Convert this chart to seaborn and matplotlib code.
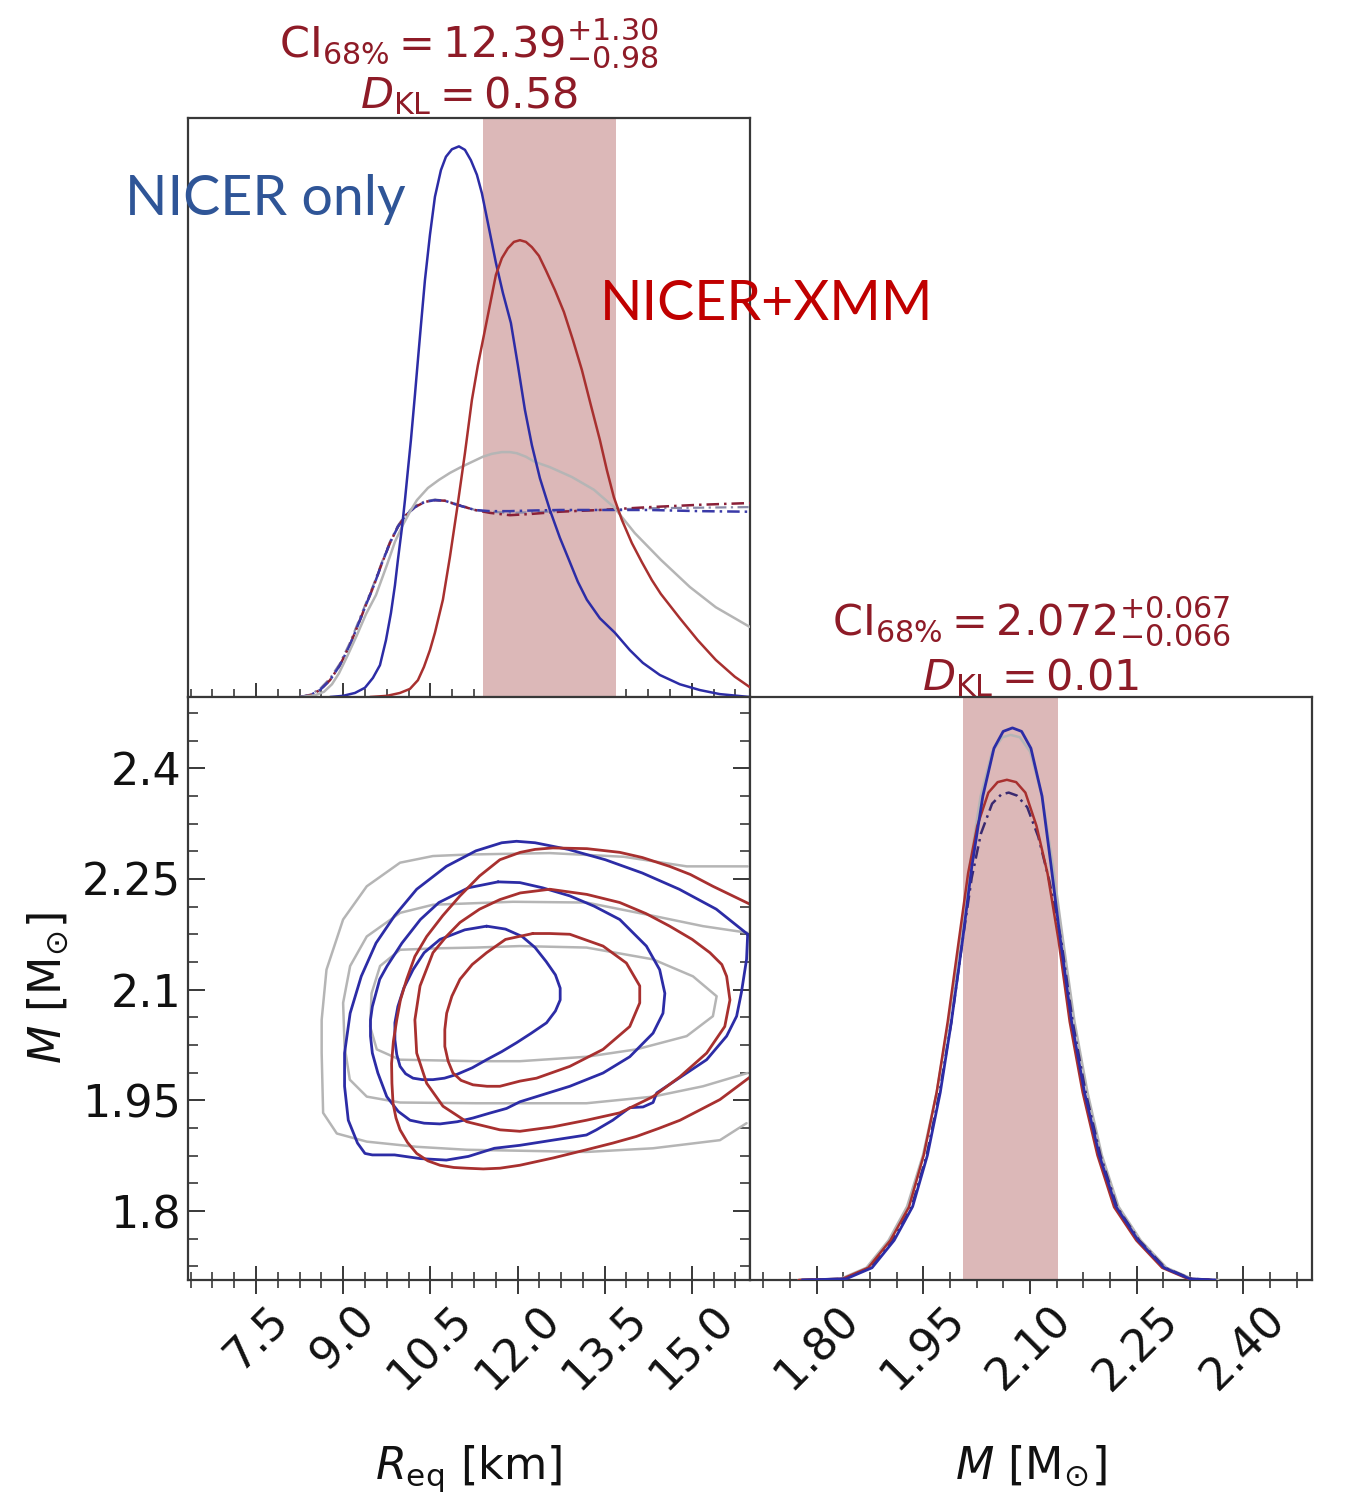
import matplotlib
matplotlib.use('Agg')
import matplotlib.pyplot as plt
from matplotlib.ticker import MultipleLocator, FuncFormatter
import seaborn as sns

sns.set_style('white')
plt.rcParams['font.family'] = ['DejaVu Sans']
plt.rcParams['mathtext.fontset'] = 'dejavusans'
plt.rcParams['text.color'] = '#111111'
plt.rcParams['axes.labelcolor'] = '#111111'
plt.rcParams['xtick.labelcolor'] = '#111111'
plt.rcParams['ytick.labelcolor'] = '#111111'

# axis ranges and 68% credible intervals (NICER+XMM)
r_lim = (6.33, 16.0)
m_lim = (1.7065, 2.4965)
ci_r = [11.41, 13.69]
ci_m = [2.006, 2.139]

# ---- 1D radius posteriors (height relative to panel) ----
r_blue = [8.773, 8.996, 9.203, 9.375, 9.512, 9.633, 9.736, 9.822, 9.891, 9.942, 10.011, 10.063,
          10.114, 10.166, 10.235, 10.286, 10.338, 10.407, 10.493, 10.579, 10.682, 10.768, 10.871,
          10.992, 11.095, 11.198, 11.301, 11.387, 11.508, 11.628, 11.748, 11.886, 12.006, 12.127,
          12.247, 12.385, 12.557, 12.729, 12.884, 13.038, 13.193, 13.417, 13.675, 13.933, 14.156,
          14.449, 14.793, 15.137, 15.481, 15.997]
h_blue = [0.0, 0.002, 0.007, 0.016, 0.033, 0.055, 0.098, 0.145, 0.193, 0.237, 0.292, 0.340, 0.392,
          0.444, 0.522, 0.582, 0.642, 0.720, 0.798, 0.864, 0.910, 0.933, 0.946, 0.951, 0.945, 0.927,
          0.902, 0.870, 0.810, 0.750, 0.698, 0.646, 0.573, 0.496, 0.435, 0.378, 0.323, 0.275, 0.237,
          0.199, 0.168, 0.136, 0.111, 0.081, 0.059, 0.038, 0.022, 0.012, 0.005, 0.0]

r_red = [9.461, 9.753, 9.977, 10.149, 10.286, 10.390, 10.493, 10.579, 10.716, 10.837, 10.957, 11.095,
         11.215, 11.318, 11.422, 11.525, 11.628, 11.731, 11.834, 11.938, 12.041, 12.144, 12.247,
         12.368, 12.488, 12.643, 12.798, 12.952, 13.107, 13.262, 13.417, 13.537, 13.658, 13.795,
         13.967, 14.139, 14.311, 14.466, 14.793, 15.102, 15.412, 15.739, 15.997]
h_red = [0.0, 0.002, 0.007, 0.014, 0.029, 0.052, 0.081, 0.111, 0.168, 0.242, 0.323, 0.421, 0.513,
         0.573, 0.625, 0.677, 0.729, 0.758, 0.775, 0.786, 0.789, 0.786, 0.777, 0.762, 0.737, 0.703,
         0.665, 0.617, 0.565, 0.504, 0.444, 0.392, 0.345, 0.306, 0.266, 0.233, 0.202, 0.178, 0.136,
         0.098, 0.064, 0.035, 0.017]

r_gray = [8.257, 8.515, 8.670, 8.807, 8.928, 9.082, 9.237, 9.392, 9.564, 9.753, 9.891, 10.011, 10.149,
          10.269, 10.458, 10.648, 10.837, 11.026, 11.215, 11.404, 11.559, 11.731, 11.869, 11.989,
          12.144, 12.299, 12.557, 12.935, 13.314, 13.658, 14.019, 14.466, 14.965, 15.412, 15.997]
h_gray = [0.0, 0.003, 0.009, 0.022, 0.041, 0.073, 0.107, 0.143, 0.176, 0.228, 0.268, 0.294, 0.320,
          0.340, 0.361, 0.375, 0.387, 0.397, 0.406, 0.415, 0.420, 0.423, 0.423, 0.421, 0.415, 0.406,
          0.397, 0.380, 0.358, 0.328, 0.283, 0.237, 0.190, 0.155, 0.121]

# prior-like dash-dot curves
r_dd = [8.257, 8.429, 8.601, 8.773, 8.945, 9.117, 9.254, 9.392, 9.530, 9.667, 9.805, 9.942, 10.080,
        10.235, 10.407, 10.579, 10.751, 10.923, 11.095, 11.267, 11.525, 11.869, 12.213, 12.729,
        13.417, 14.277, 15.137, 15.997]
h_dd_blue = [0.0, 0.003, 0.012, 0.029, 0.055, 0.090, 0.124, 0.159, 0.193, 0.231, 0.266, 0.294, 0.314,
             0.328, 0.337, 0.340, 0.339, 0.333, 0.328, 0.323, 0.321, 0.321, 0.322, 0.323, 0.323,
             0.323, 0.321, 0.320]
h_dd_red = [0.0, 0.003, 0.012, 0.029, 0.055, 0.090, 0.124, 0.159, 0.193, 0.231, 0.266, 0.294, 0.314,
            0.328, 0.337, 0.340, 0.339, 0.333, 0.328, 0.323, 0.318, 0.314, 0.316, 0.320, 0.323,
            0.328, 0.332, 0.335]
h_dd_gray = [0.0, 0.004, 0.014, 0.032, 0.058, 0.094, 0.128, 0.162, 0.196, 0.233, 0.268, 0.296, 0.316,
             0.330, 0.338, 0.341, 0.339, 0.334, 0.329, 0.323, 0.320, 0.318, 0.319, 0.321, 0.323,
             0.326, 0.327, 0.328]

# ---- 1D mass posteriors ----
m_blue = [1.780, 1.8416, 1.8780, 1.9091, 1.9351, 1.9559, 1.9740, 1.9896, 2.0052, 2.0183, 2.0338,
          2.0494, 2.0624, 2.0754, 2.0883, 2.1014, 2.1170, 2.1299, 2.1430, 2.1586, 2.1767, 2.1975,
          2.2209, 2.2521, 2.2885, 2.3249, 2.360]
hm_blue = [0.0, 0.002, 0.021, 0.068, 0.126, 0.214, 0.322, 0.443, 0.582, 0.709, 0.830, 0.912, 0.941,
           0.947, 0.941, 0.912, 0.830, 0.709, 0.582, 0.443, 0.322, 0.214, 0.126, 0.068, 0.021,
           0.002, 0.0]
m_red = [1.775, 1.8364, 1.8727, 1.9039, 1.9299, 1.9507, 1.9689, 1.9844, 2.0000, 2.0130, 2.0260,
         2.0416, 2.0546, 2.0676, 2.0806, 2.0936, 2.1092, 2.1248, 2.1403, 2.1559, 2.1741, 2.1949,
         2.2183, 2.2495, 2.2858, 2.3222, 2.355]
hm_red = [0.0, 0.002, 0.021, 0.068, 0.125, 0.214, 0.322, 0.443, 0.582, 0.697, 0.779, 0.836, 0.854,
          0.858, 0.854, 0.836, 0.779, 0.697, 0.582, 0.443, 0.322, 0.214, 0.125, 0.068, 0.021,
          0.002, 0.0]
m_gray = [1.775, 1.8338, 1.8701, 1.9013, 1.9273, 1.9496, 1.9689, 1.9855, 2.0016, 2.0151, 2.0307,
          2.0468, 2.0614, 2.0728, 2.0858, 2.1003, 2.1170, 2.1325, 2.1466, 2.1627, 2.1809, 2.2011,
          2.2245, 2.2557, 2.2921, 2.3284, 2.365]
hm_gray = [0.0, 0.002, 0.021, 0.068, 0.126, 0.214, 0.322, 0.443, 0.582, 0.709, 0.830, 0.906, 0.931,
           0.935, 0.931, 0.906, 0.830, 0.709, 0.582, 0.443, 0.322, 0.214, 0.126, 0.068, 0.021,
           0.002, 0.0]
m_dd = [1.778, 1.8390, 1.8753, 1.9065, 1.9335, 1.9548, 1.9730, 1.9896, 2.0052, 2.0182, 2.0312,
        2.0468, 2.0598, 2.0702, 2.0816, 2.0962, 2.1118, 2.1274, 2.1440, 2.1601, 2.1783, 2.1991,
        2.2225, 2.2536, 2.2900, 2.3264, 2.362]
hm_dd = [0.0, 0.002, 0.021, 0.068, 0.125, 0.214, 0.322, 0.443, 0.582, 0.690, 0.766, 0.817, 0.833,
         0.836, 0.831, 0.811, 0.760, 0.684, 0.582, 0.443, 0.322, 0.214, 0.125, 0.068, 0.021,
         0.002, 0.0]

# ---- 2D credible contours (R, M) ----
r_blue_in = [11.468, 11.093, 10.666, 10.393, 10.202, 10.043, 9.941, 9.890, 9.890, 9.922, 9.979,
             10.074, 10.202, 10.361, 10.545, 10.743, 10.953, 11.220, 11.468, 11.729, 11.983,
             12.238, 12.499, 12.652, 12.734, 12.734, 12.652, 12.493, 12.302, 12.079, 11.793, 11.468]
m_blue_in = [2.186, 2.181, 2.168, 2.150, 2.127, 2.102, 2.077, 2.055, 2.032, 2.012, 1.996, 1.986,
             1.980, 1.978, 1.978, 1.980, 1.985, 1.994, 2.005, 2.016, 2.028, 2.041, 2.055, 2.071,
             2.086, 2.102, 2.120, 2.138, 2.157, 2.172, 2.182, 2.186]
r_blue_mid = [11.665, 11.156, 10.647, 10.329, 10.011, 9.756, 9.629, 9.502, 9.470, 9.470, 9.502,
              9.597, 9.750, 9.947, 10.151, 10.393, 10.666, 10.965, 11.233, 11.538, 11.812, 12.041,
              12.327, 12.900, 13.472, 13.931, 14.332, 14.503, 14.535, 14.446, 14.217, 13.759,
              13.320, 12.900, 12.429, 12.041, 11.665]
m_blue_mid = [2.246, 2.238, 2.218, 2.195, 2.163, 2.132, 2.114, 2.077, 2.059, 2.037, 2.014, 1.987,
              1.955, 1.935, 1.923, 1.919, 1.918, 1.921, 1.926, 1.933, 1.939, 1.948, 1.955, 1.969,
              1.987, 2.009, 2.041, 2.068, 2.095, 2.127, 2.159, 2.195, 2.213, 2.227, 2.238, 2.245,
              2.246]
r_blue_out = [15.960, 15.420, 14.783, 14.147, 13.510, 12.874, 12.302, 11.983, 11.729, 11.283, 10.775,
              10.265, 9.884, 9.565, 9.311, 9.120, 9.024, 9.024, 9.088, 9.247, 9.375, 9.502, 9.884,
              10.329, 10.775, 11.156, 11.602, 12.041, 12.607, 13.186, 13.358, 13.638, 13.931,
              14.160, 14.332, 14.395, 14.567, 14.911, 15.254, 15.598, 15.770, 15.852, 15.941, 15.960]
m_blue_out = [2.175, 2.209, 2.236, 2.258, 2.276, 2.290, 2.299, 2.301, 2.299, 2.288, 2.267, 2.236,
              2.200, 2.163, 2.118, 2.068, 2.014, 1.969, 1.923, 1.892, 1.878, 1.876, 1.876, 1.871,
              1.869, 1.874, 1.885, 1.889, 1.896, 1.903, 1.910, 1.923, 1.940, 1.941, 1.947, 1.960,
              1.969, 1.987, 2.005, 2.037, 2.064, 2.096, 2.141, 2.175]

r_red_in = [12.263, 11.793, 11.468, 11.220, 11.010, 10.870, 10.781, 10.749, 10.749, 10.806, 10.889,
            11.029, 11.233, 11.475, 11.697, 12.041, 12.327, 12.900, 13.472, 13.931, 14.103, 14.103,
            13.873, 13.472, 12.900, 12.556, 12.263]
m_red_in = [2.176, 2.168, 2.150, 2.134, 2.114, 2.091, 2.068, 2.046, 2.023, 2.003, 1.987, 1.977,
            1.971, 1.969, 1.969, 1.976, 1.980, 1.996, 2.019, 2.050, 2.082, 2.105, 2.136, 2.159,
            2.175, 2.176, 2.176]
r_red_mid = [12.556, 13.193, 13.759, 14.211, 14.618, 15.006, 15.311, 15.515, 15.598, 15.655, 15.566,
             15.254, 14.796, 14.332, 13.759, 13.186, 12.607, 12.041, 11.697, 11.124, 10.717, 10.437,
             10.265, 10.234, 10.323, 10.545, 10.775, 11.010, 11.347, 11.697, 12.047, 12.556]
m_red_mid = [2.236, 2.229, 2.218, 2.203, 2.186, 2.168, 2.150, 2.134, 2.118, 2.086, 2.050, 2.014,
             1.982, 1.955, 1.933, 1.923, 1.914, 1.908, 1.910, 1.921, 1.942, 1.973, 2.014, 2.059,
             2.105, 2.150, 2.172, 2.191, 2.209, 2.222, 2.231, 2.236]
r_red_out = [15.992, 15.362, 14.974, 14.618, 14.147, 13.759, 13.193, 12.607, 12.302, 12.047, 11.697,
             11.347, 11.010, 10.711, 10.437, 10.234, 10.093, 9.985, 9.922, 9.864, 9.833, 9.839,
             9.858, 9.909, 9.979, 10.106, 10.265, 10.456, 10.666, 10.902, 11.124, 11.411, 11.697,
             12.041, 12.620, 13.186, 13.638, 14.045, 14.433, 14.796, 15.165, 15.483, 15.738, 15.992]
m_red_out = [2.216, 2.240, 2.256, 2.267, 2.279, 2.286, 2.291, 2.292, 2.290, 2.286, 2.276, 2.254,
             2.227, 2.200, 2.172, 2.145, 2.114, 2.086, 2.059, 2.030, 2.000, 1.973, 1.946, 1.926,
             1.910, 1.893, 1.878, 1.868, 1.862, 1.859, 1.858, 1.857, 1.858, 1.862, 1.872, 1.883,
             1.892, 1.901, 1.912, 1.923, 1.938, 1.951, 1.966, 1.981]

r_gray_in = [9.979, 10.647, 11.283, 12.041, 13.186, 14.332, 15.019, 15.426, 15.362, 14.911, 14.045,
             13.186, 12.041, 11.283, 10.647, 9.979, 9.578, 9.464, 9.489, 9.635, 9.979]
m_gray_in = [2.154, 2.156, 2.157, 2.159, 2.157, 2.141, 2.118, 2.091, 2.064, 2.037, 2.019, 2.009,
             2.003, 2.003, 2.004, 2.005, 2.019, 2.050, 2.095, 2.132, 2.154]
r_gray_mid = [15.960, 15.191, 14.332, 13.186, 11.920, 10.545, 9.979, 9.406, 9.120, 8.999, 9.024,
              9.114, 9.406, 9.979, 11.283, 13.186, 14.332, 15.191, 15.960]
m_gray_mid = [2.177, 2.186, 2.200, 2.218, 2.219, 2.215, 2.204, 2.172, 2.132, 2.082, 2.023, 1.978,
              1.955, 1.947, 1.946, 1.946, 1.955, 1.969, 1.987]
r_gray_out = [15.960, 14.911, 13.829, 12.556, 11.124, 10.545, 9.979, 9.406, 8.999, 8.713, 8.630,
              8.630, 8.655, 8.891, 9.406, 10.265, 11.124, 13.186, 14.332, 15.483, 15.941]
m_gray_out = [2.267, 2.267, 2.280, 2.285, 2.283, 2.281, 2.272, 2.240, 2.195, 2.127, 2.059, 2.014,
              1.933, 1.905, 1.894, 1.887, 1.883, 1.880, 1.885, 1.896, 1.919]

# colours
c_blue = '#2c2ca6'
c_red = '#a8302f'
c_gray = '#b5b5b5'
c_band = '#dcb8b8'
c_title = '#8e1b27'
c_frame = '#383838'
tick_fs = 32


def curve(ax, x, y, color, lw=1.6, ls='-', z=3, alpha=1.0):
    sns.lineplot(x=x, y=y, ax=ax, sort=False, estimator=None, color=color,
                 lw=lw, linestyle=ls, zorder=z, alpha=alpha,
                 solid_joinstyle='round', solid_capstyle='round')


def frame(ax):
    for s in ax.spines.values():
        s.set_visible(True)
        s.set_color(c_frame)
        s.set_linewidth(1.6)
    ax.set_xlabel('')
    ax.set_ylabel('')


fig = plt.figure(figsize=(13.49, 14.92), dpi=100)
ax_r = fig.add_axes([0.13936, 0.53284, 0.41660, 0.38807])
ax_rm = fig.add_axes([0.13936, 0.14209, 0.41660, 0.39075])
ax_m = fig.add_axes([0.55597, 0.14209, 0.41660, 0.39075])

# ---- top: radius ----
ax_r.axvspan(ci_r[0], ci_r[1], color=c_band, lw=0, zorder=1)
dash = (0, (5, 2, 1, 2))
curve(ax_r, r_dd, h_dd_gray, '#8a8aa8', lw=1.6, ls=dash)
curve(ax_r, r_dd, h_dd_red, '#8a2038', lw=1.8, ls=dash)
curve(ax_r, r_dd, h_dd_blue, '#3a3aa8', lw=1.8, ls=(2, (5, 2, 1, 2)))
curve(ax_r, r_gray, h_gray, c_gray, lw=1.8)
curve(ax_r, r_blue, h_blue, c_blue, lw=1.8)
curve(ax_r, r_red, h_red, c_red, lw=1.8)
ax_r.set_xlim(r_lim)
ax_r.set_ylim(0, 1)
frame(ax_r)
ax_r.spines['bottom'].set_linewidth(2.2)
ax_r.xaxis.set_major_locator(MultipleLocator(1.5))
ax_r.xaxis.set_minor_locator(MultipleLocator(0.375))
ax_r.tick_params(axis='x', which='major', bottom=True, direction='inout', length=20, width=1.4,
                 color=c_frame, labelbottom=False)
ax_r.tick_params(axis='x', which='minor', bottom=True, direction='inout', length=12, width=1.2,
                 color=c_frame)
ax_r.tick_params(axis='y', which='both', left=False, labelleft=False)
ax_r.text(0.5, 1.105, r'$\mathrm{CI}_{68\%} = 12.39_{-0.98}^{+1.30}$', transform=ax_r.transAxes,
          ha='center', va='baseline', fontsize=31, color=c_title)
ax_r.text(0.5, 1.017, r'$D_{\mathrm{KL}} = 0.58$', transform=ax_r.transAxes,
          ha='center', va='baseline', fontsize=31, color=c_title)

# ---- bottom-left: contours ----
for rr, mm in [(r_gray_out, m_gray_out), (r_gray_mid, m_gray_mid), (r_gray_in, m_gray_in)]:
    curve(ax_rm, rr, mm, c_gray, lw=1.8)
for rr, mm in [(r_blue_out, m_blue_out), (r_blue_mid, m_blue_mid), (r_blue_in, m_blue_in)]:
    curve(ax_rm, rr, mm, c_blue, lw=2.0)
for rr, mm in [(r_red_out, m_red_out), (r_red_mid, m_red_mid), (r_red_in, m_red_in)]:
    curve(ax_rm, rr, mm, c_red, lw=2.0)
ax_rm.set_xlim(r_lim)
ax_rm.set_ylim(m_lim)
frame(ax_rm)
ax_rm.xaxis.set_major_locator(MultipleLocator(1.5))
ax_rm.xaxis.set_minor_locator(MultipleLocator(0.375))
ax_rm.yaxis.set_major_locator(MultipleLocator(0.15))
ax_rm.yaxis.set_minor_locator(MultipleLocator(0.0375))
ax_rm.xaxis.set_major_formatter(FuncFormatter(lambda v, p: f'{v:.1f}'))
ax_rm.yaxis.set_major_formatter(FuncFormatter(lambda v, p: f'{v:g}'))
ax_rm.tick_params(axis='x', which='major', bottom=True, direction='inout', length=20, width=1.4,
                  color=c_frame, labelsize=tick_fs, labelrotation=45, pad=3)
ax_rm.tick_params(axis='x', which='minor', bottom=True, direction='inout', length=12, width=1.2,
                  color=c_frame)
ax_rm.tick_params(axis='y', which='major', left=True, right=True, direction='in', length=12,
                  width=1.4, color=c_frame, labelsize=tick_fs, pad=5)
ax_rm.tick_params(axis='y', which='minor', left=True, right=True, direction='in', length=7,
                  width=1.2, color=c_frame)
ax_rm.set_xlabel(r'$R_{\mathrm{eq}}$ [km]', fontsize=32)
ax_rm.xaxis.set_label_coords(0.5, -0.28)
ax_rm.set_ylabel(r'$M$ [M$_{\odot}$]', fontsize=32)
ax_rm.yaxis.set_label_coords(-0.21, 0.5)

# ---- bottom-right: mass ----
ax_m.axvspan(ci_m[0], ci_m[1], color=c_band, lw=0, zorder=1)
curve(ax_m, m_gray, hm_gray, c_gray, lw=1.8)
curve(ax_m, m_dd, hm_dd, '#3a2a70', lw=1.8, ls=dash)
curve(ax_m, m_red, hm_red, c_red, lw=1.8)
curve(ax_m, m_blue, hm_blue, c_blue, lw=2.0)
ax_m.set_xlim(m_lim)
ax_m.set_ylim(0, 1)
frame(ax_m)
ax_m.xaxis.set_major_locator(MultipleLocator(0.15))
ax_m.xaxis.set_minor_locator(MultipleLocator(0.0375))
ax_m.xaxis.set_major_formatter(FuncFormatter(lambda v, p: f'{v:.2f}'))
ax_m.tick_params(axis='x', which='major', bottom=True, direction='inout', length=20, width=1.4,
                 color=c_frame, labelsize=tick_fs, labelrotation=45, pad=3)
ax_m.tick_params(axis='x', which='minor', bottom=True, direction='inout', length=12, width=1.2,
                 color=c_frame)
ax_m.tick_params(axis='y', which='both', left=False, labelleft=False)
ax_m.set_xlabel(r'$M$ [M$_{\odot}$]', fontsize=32)
ax_m.xaxis.set_label_coords(0.5, -0.28)
ax_m.text(0.5, 1.105, r'$\mathrm{CI}_{68\%} = 2.072_{-0.066}^{+0.067}$', transform=ax_m.transAxes,
          ha='center', va='baseline', fontsize=31, color=c_title)
ax_m.text(0.5, 1.012, r'$D_{\mathrm{KL}} = 0.01$', transform=ax_m.transAxes,
          ha='center', va='baseline', fontsize=31, color=c_title)

# ---- dataset annotations ----
fig.text(125 / 1349, 1 - 215 / 1492, 'NICER only', fontsize=40, color='#2f5597',
         family=['Lato', 'DejaVu Sans'], ha='left', va='baseline')
fig.text(600 / 1349, 1 - 320 / 1492, 'NICER+XMM', fontsize=40, color='#c00000',
         family=['Lato', 'DejaVu Sans'], ha='left', va='baseline')

fig.savefig('out.png', dpi=100)
